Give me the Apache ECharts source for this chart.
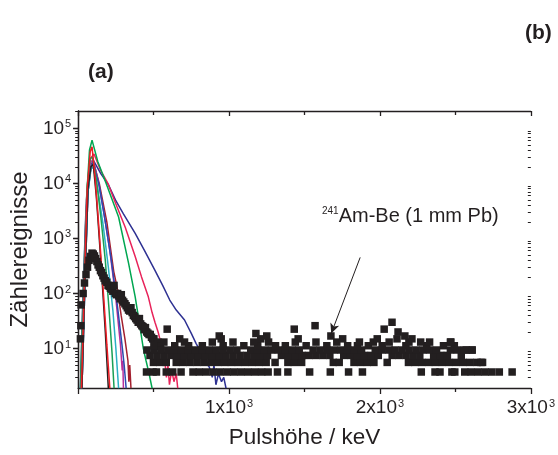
<!DOCTYPE html>
<html><head><meta charset="utf-8">
<script src="https://cdn.jsdelivr.net/npm/echarts@6/dist/echarts.min.js"></script>
<style>html,body{margin:0;padding:0;background:#fff}#c{width:558px;height:455px}</style>
</head><body><div id="c"></div><script>
// ---- data (x: pulse height in keV, y: counts) ----
const navySpec = [[15,1.9],[30,60],[50,2500],[75,18000],[100,26500],[150,15000],[200,9500],[247,5000],[300,2800],[378,1230],[440,600],[509,263],[560,140],[607,76],[650,50],[705,33],[749,19],[782,12.3],[836,6.6],[869,4.6],[889,3],[900,5],[913,2.2],[930,3.5],[950,2.5],[965,3],[980,1.9]];
const crimsonSpec = [[18,1.9],[40,120],[60,6000],[80,28000],[105,34000],[150,17000],[197,10000],[250,4200],[312,1600],[378,470],[420,200],[465,87],[490,45],[509,30],[530,20],[550,12],[574,6],[585,3],[595,5],[605,2.2],[620,4],[635,2.5],[650,3.5],[660,1.9]];
const greenSpec = [[15,1.9],[30,50],[55,5000],[75,40000],[92,61000],[130,25000],[185,10000],[268,2450],[334,355],[378,87],[405,30],[432,10],[450,6],[470,3.5],[490,1.9]];
const redSpec = [[22,1.9],[40,100],[60,8000],[80,38000],[92,46000],[110,15000],[130,3000],[150,500],[170,80],[190,12],[210,1.9]];
const blackSpec = [[25,1.9],[45,200],[65,8000],[85,20000],[100,22000],[120,6000],[140,1000],[160,150],[180,20],[200,1.9]];
const green2Spec = [[20,1.9],[40,150],[60,9000],[80,28000],[95,30000],[120,12000],[150,2500],[180,400],[205,50],[225,8],[238,1.9]];
const cyanSpec = [[25,1.9],[45,150],[65,7000],[85,18000],[100,20000],[130,8000],[165,1800],[200,300],[230,50],[250,10],[268,1.9]];
const blueSpec = [[25,1.9],[45,150],[65,7000],[85,20000],[100,24000],[140,9000],[180,2000],[220,400],[260,60],[290,12],[305,5],[318,1.9]];
const magentaSpec = [[20,1.9],[35,80],[55,5000],[78,22000],[98,28000],[130,12000],[170,3000],[210,600],[250,80],[280,12],[292,4],[296,6],[300,1.9]];
const darkredSpec = [[25,1.9],[45,150],[65,7000],[85,20000],[100,25000],[140,10000],[190,2000],[236,250],[258,130],[285,40],[310,15],[330,6],[336,2.5],[342,5],[350,1.9]];

// 241Am-Be (1 mm Pb): rising peak and tail
const amBePeak = [[15,15],[18,26],[20,62],[33,100],[42,155],[52,220],[62,300],[72,400],[82,470],[92,540],[100,520],[108,480],[116,430],[124,380],[132,330],[140,300],[148,260],[156,240],[164,210],[172,190],[180,170],[190,160],[198,140],[206,135],[214,125],[222,120],[230,110],[238,140],[246,100],[254,95],[262,100],[270,90],[278,80],[286,95],[294,75],[302,70],[310,65],[318,60],[326,55],[334,50],[342,48],[350,55],[358,45],[366,40],[374,38],[382,35],[390,33],[398,30],[406,35],[414,28],[422,26],[430,25],[438,22],[446,24],[454,20],[462,19],[470,18],[478,18],[486,16],[494,15],[502,15],[512,13],[522,12],[532,13],[545,11]];
// flat region: discrete count levels and the energies where a square sits on each level
const amBeLevels = [3.75, 5.6, 7.5, 9.4, 11.25, 13.1, 15];
const amBeRow3_75 = [453,496,519,584,627,682,761,803,848,895,941,987,1032,1078,1124,1170,1216,1259,1321,1390,1534,1671,1792,1884,2274,2365,2398,2477,2496,2562,2605,2651,2697,2742,2791,2876];
const amBeRow5_6 = [499,542,584,650,696,741,787,833,879,925,971,1016,1062,1108,1154,1200,1246,1305,1390,1432,1481,1691,1730,1828,1871,1917,1960,2048,2189,2231,2277,2323,2368,2414,2460,2506,2552,2598,2644,2680];
const amBeRow7_5 = [476,522,568,614,659,705,751,797,843,889,935,980,1026,1072,1118,1164,1210,1255,1347,1393,1439,1485,1531,1576,1622,1668,1760,1806,1851,1897,1943,1989,2081,2126,2172,2218,2264,2356,2402,2447,2539];
const amBeRow9_4 = [456,502,548,594,640,686,732,777,823,869,915,961,1007,1052,1144,1190,1236,1282,1327,1373,1419,1465,1557,1603,1648,1694,1740,1786,1832,1878,1969,2015,2061,2100,2146,2192,2238,2284,2329,2375,2467,2513,2572,2611];
const amBeRow11_25 = [502,640,732,823,961,1098,1190,1308,1373,1511,1648,1786,1851,1923,2015,2172,2310,2421,2493];
const amBeRow13_1 = [568,705,889,1026,1164,1262,1439,1576,1714,1864,1956,2061,2192,2329,2467];
const amBeRow15 = [673,948,1210,1458,1753,1982,2113,2212];
const amBeHigh = [[590,22.5],[935,16.9],[1178,18.75],[1250,16.9],[1432,22.5],[1570,26],[1675,16.9],[2028,22.5],[2080,30],[2120,20],[2165,16.9],[2270,13.1],[2470,13.1],[2560,9.4],[2610,9.4],[2670,5.6]];

const xTickLabels = [1000, 2000, 3000];
const yDecades = [10, 100, 1000, 10000, 100000];
const yMinorTicks = [3,4,5,6,7,8,9,20,30,40,50,60,70,80,90,200,300,400,500,600,700,800,900,2000,3000,4000,5000,6000,7000,8000,9000,20000,30000,40000,50000,60000,70000,80000,90000,200000];
const arrowFrom = [1869, 452];
const arrowTo = [1677, 18.75];

// ---- build ----
const rows = [amBeRow3_75, amBeRow5_6, amBeRow7_5, amBeRow9_4, amBeRow11_25, amBeRow13_1, amBeRow15];
const amBeData = amBePeak.slice();
rows.forEach((r, i) => r.forEach(x => amBeData.push([x, amBeLevels[i]])));
amBeHigh.forEach(p => amBeData.push(p));

const FONT = '"Liberation Sans", Arial, Helvetica, sans-serif';
const INK = '#231f20';
const YMIN = 1.92, YMAX = 206000;

const lines = [
  [navySpec, '#2e3192'], [crimsonSpec, '#e8235a'], [greenSpec, '#00a651'],
  [darkredSpec, '#a3202f'], [magentaSpec, '#b5309b'], [blueSpec, '#2b4bb0'],
  [cyanSpec, '#2ab0c4'], [green2Spec, '#1a9f55'], [blackSpec, INK], [redSpec, '#ed1c24']
];

const axisLineStyle = {color: INK, width: 1.3};
const series = lines.map(([d, c]) => ({
  type: 'line', data: d, showSymbol: false, symbol: 'none',
  lineStyle: {color: c, width: 1.5}, xAxisIndex: 0, yAxisIndex: 0, clip: true, z: 2
}));
series.push({
  type: 'scatter', data: amBeData, symbol: 'rect', symbolSize: 7.5,
  itemStyle: {color: INK, opacity: 1}, xAxisIndex: 0, yAxisIndex: 0, clip: true, z: 3,
  markLine: {
    silent: true, symbol: ['none', 'arrow'], symbolSize: [7, 10],
    lineStyle: {color: INK, width: 1, type: 'solid'}, label: {show: false},
    data: [[{coord: arrowFrom}, {coord: arrowTo}]]
  }
});

const supRich = {
  b: {fontSize: 19, fontFamily: FONT, color: INK},
  s: {fontSize: 11, fontFamily: FONT, color: INK, verticalAlign: 'top', padding: [0, 0, 0, 1]}
};

const chart = echarts.init(document.getElementById('c'), null, {renderer: 'canvas'});
chart.setOption({
  animation: false,
  backgroundColor: '#fff',
  grid: {left: 76, right: 23, top: 111, bottom: 67},
  xAxis: [
    {
      type: 'value', position: 'bottom', min: 0, max: 3000, interval: 1000,
      axisLine: {lineStyle: axisLineStyle},
      axisTick: {inside: false, length: 6, lineStyle: axisLineStyle},
      minorTick: {show: true, splitNumber: 2, length: 4, lineStyle: axisLineStyle},
      splitLine: {show: false},
      axisLabel: {
        margin: 10, customValues: xTickLabels,
        formatter: v => '{b|' + (v / 1000) + 'x10}{s|3}', rich: supRich
      },
      name: 'Pulshöhe / keV', nameLocation: 'middle', nameGap: 38,
      nameTextStyle: {fontSize: 22.5, fontFamily: FONT, color: INK}
    },
    {
      type: 'value', position: 'top', min: 0, max: 3000, interval: 1000,
      axisLine: {lineStyle: axisLineStyle},
      axisTick: {inside: true, length: 5, lineStyle: axisLineStyle},
      minorTick: {show: true, splitNumber: 2, length: 4, lineStyle: axisLineStyle},
      splitLine: {show: false}, axisLabel: {show: false}
    }
  ],
  yAxis: [
    {
      type: 'log', position: 'left', min: YMIN, max: YMAX,
      axisLine: {lineStyle: axisLineStyle},
      axisTick: {inside: false, length: 5, lineStyle: axisLineStyle, customValues: yDecades},
      splitLine: {show: false},
      axisLabel: {
        margin: 7, customValues: yDecades,
        formatter: v => '{b|10}{s|' + Math.round(Math.log10(v)) + '}', rich: supRich
      },
      name: 'Zählereignisse', nameLocation: 'middle', nameGap: 44,
      nameTextStyle: {fontSize: 24, fontFamily: FONT, color: INK}
    },
    {
      type: 'log', position: 'right', min: YMIN, max: YMAX,
      axisLine: {lineStyle: axisLineStyle},
      axisTick: {inside: true, length: 5, lineStyle: axisLineStyle, customValues: yDecades},
      splitLine: {show: false}, axisLabel: {show: false}
    },
    {
      type: 'log', position: 'left', min: YMIN, max: YMAX,
      axisLine: {show: false},
      axisTick: {inside: false, length: 3, lineStyle: {color: INK, width: 1}, customValues: yMinorTicks},
      splitLine: {show: false}, axisLabel: {show: false}
    },
    {
      type: 'log', position: 'right', min: YMIN, max: YMAX,
      axisLine: {show: false},
      axisTick: {inside: true, length: 3, lineStyle: {color: INK, width: 1}, customValues: yMinorTicks},
      splitLine: {show: false}, axisLabel: {show: false}
    }
  ],
  graphic: [
    {type: 'text', left: 88, top: 62, style: {text: '(a)', font: 'bold 21px ' + FONT, fill: INK}},
    {type: 'text', left: 525, top: 23, style: {text: '(b)', font: 'bold 21px ' + FONT, fill: INK}},
    {type: 'text', left: 322, top: 206, style: {
      text: '{s|241}{b|Am-Be (1 mm Pb)}',
      rich: {
        s: {fontSize: 10, fontFamily: FONT, fill: INK, verticalAlign: 'top'},
        b: {fontSize: 20, fontFamily: FONT, fill: INK}
      }
    }}
  ],
  series: series
});
</script></body></html>
